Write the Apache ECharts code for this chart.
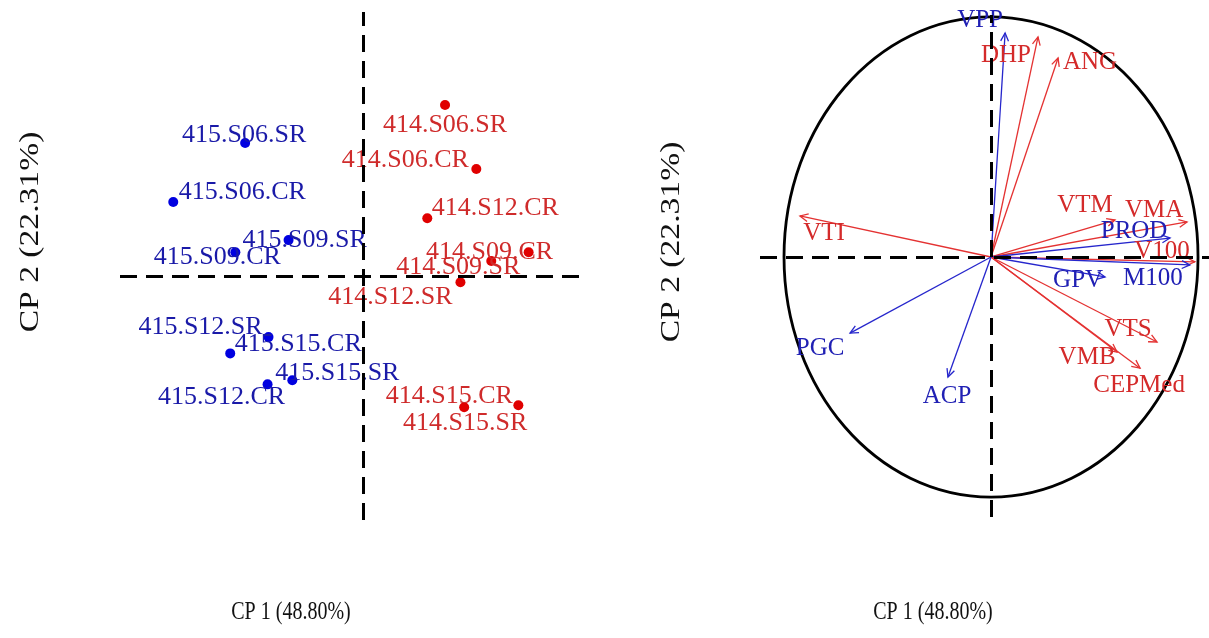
<!DOCTYPE html>
<html>
<head>
<meta charset="utf-8">
<title>CP 1 / CP 2</title>
<script src="https://cdn.jsdelivr.net/npm/echarts@6/dist/echarts.min.js"></script>
<style>
  html, body { margin: 0; padding: 0; background: #fff; }
  #chart { width: 1209px; height: 638px; }
</style>
</head>
<body>
<div id="chart"></div>
<script>
// Individuals: scores on the first two principal components
const indNames = [
  '415.S06.SR', '415.S06.CR', '415.S09.SR', '415.S09.CR',
  '415.S12.SR', '415.S15.CR', '415.S15.SR', '415.S12.CR',
  '414.S06.SR', '414.S06.CR', '414.S12.CR', '414.S09.CR',
  '414.S09.SR', '414.S12.SR', '414.S15.CR', '414.S15.SR'
];
const indCP1 = [-2.52, -4.06, -1.59, -2.73, -2.02, -2.84, -1.51, -2.04,
                 1.76,  2.43,  1.38,  3.55,  2.75,  2.09,  3.33,  2.17];
const indCP2 = [ 2.62,  1.46,  0.71,  0.47, -1.20, -1.52, -2.05, -2.13,
                 3.37,  2.11,  1.14,  0.47,  0.30, -0.12, -2.54, -2.58];
const indGroup = ['415', '415', '415', '415', '415', '415', '415', '415',
                  '414', '414', '414', '414', '414', '414', '414', '414'];

// Variables: correlations with the first two components
const varNames = ['VPP', 'DHP', 'ANG', 'VTI', 'VTM', 'VMA', 'PROD', 'V100',
                  'M100', 'GPV', 'VTS', 'VMB', 'CEPMed', 'PGC', 'ACP'];
const varCP1 = [0.068, 0.227, 0.324, -0.923, 0.599, 0.947, 0.865, 0.985,
                0.961, 0.551, 0.802, 0.609, 0.720, -0.681, -0.208];
const varCP2 = [0.933, 0.917, 0.829, 0.171, 0.154, 0.146, 0.079, -0.020,
                -0.033, -0.083, -0.354, -0.396, -0.463, -0.317, -0.500];
const varGroup = ['b', 'r', 'r', 'r', 'r', 'r', 'b', 'r',
                  'b', 'b', 'r', 'r', 'r', 'b', 'b'];

const axisTitleX = 'CP 1 (48.80%)';
const axisTitleY = 'CP 2 (22.31%)';

// Label placement (pixel shifts from the marker)
const indLabelShift = [
  [-1, -8], [69, -10], [16, 0], [-18, 5],
  [-68, -10], [68, -9], [45, -7], [-46, 13],
  [0, 20], [-71, -9], [68, -10], [-39, 0],
  [-33, 6], [-70, 15], [-69, -9], [1, 16]
];
const varLabelShift = [
  [-25, -13], [-32, 19], [32, 4], [24, 17], [-30, -15], [-33, -12],
  [-36, -7], [-33, -10], [-37, 14], [-27, 4], [-29, -13], [-30, 5],
  [-1, 17], [-30, 15], [-1, 19]
];

const FONT = '"Liberation Serif", "DejaVu Serif", serif';
const dotColor = { '415': '#0000e0', '414': '#e00000' };
const textColor = { '415': '#1a1aa8', '414': '#cf2b2b' };
const arrowColor = { b: '#2626cc', r: '#e43232' };
const varTextColor = { b: '#2020b4', r: '#d42a2a' };

const dash = { color: '#000', width: 3, type: [17, 9] };

function groupData(g) {
  const out = [];
  indNames.forEach((n, i) => {
    if (indGroup[i] !== g) return;
    out.push({
      name: n,
      value: [indCP1[i], indCP2[i]],
      label: { offset: indLabelShift[i] }
    });
  });
  return out;
}

function scatterSeries(g) {
  return {
    type: 'scatter',
    xAxisIndex: 0, yAxisIndex: 0,
    symbol: 'circle',
    symbolSize: 10,
    itemStyle: { color: dotColor[g], opacity: 1 },
    z: 3,
    label: {
      show: true,
      position: 'inside',
      formatter: p => p.name,
      color: textColor[g],
      opacity: 1,
      fontFamily: FONT,
      fontSize: 26
    },
    data: groupData(g)
  };
}

function crossLines(xi) {
  return {
    type: 'line',
    xAxisIndex: xi, yAxisIndex: xi,
    data: [],
    silent: true,
    z: 1,
    markLine: {
      silent: true,
      symbol: 'none',
      label: { show: false },
      lineStyle: dash,
      animation: false,
      data: [{ xAxis: 0 }, { yAxis: 0 }]
    }
  };
}

function renderArrow(params, api) {
  const i = params.dataIndex;
  const o = api.coord([0, 0]);
  const p = api.coord([api.value(0), api.value(1)]);
  const col = arrowColor[varGroup[i]];
  const ang = Math.atan2(p[1] - o[1], p[0] - o[0]);
  const h = 9, spread = Math.PI / 7;
  const a1 = [p[0] - h * Math.cos(ang - spread), p[1] - h * Math.sin(ang - spread)];
  const a2 = [p[0] - h * Math.cos(ang + spread), p[1] - h * Math.sin(ang + spread)];
  const s = varLabelShift[i];
  return {
    type: 'group',
    children: [
      { type: 'line', shape: { x1: o[0], y1: o[1], x2: p[0], y2: p[1] },
        style: { stroke: col, lineWidth: 1.3 } },
      { type: 'polyline', shape: { points: [a1, p, a2] },
        style: { stroke: col, lineWidth: 1.3, fill: null } },
      { type: 'text', x: p[0] + s[0], y: p[1] + s[1], z2: 10,
        style: { text: varNames[i], fill: varTextColor[varGroup[i]],
                 fontFamily: FONT, fontSize: 25,
                 align: 'center', verticalAlign: 'middle' } }
    ]
  };
}

function renderCircle(params, api) {
  const c = api.coord([0, 0]);
  const r = api.size([1, 1]);
  return {
    type: 'ellipse',
    shape: { cx: c[0], cy: c[1], rx: r[0], ry: r[1] },
    style: { stroke: '#000', fill: null, lineWidth: 2.8 }
  };
}

const hiddenAxis = { show: false, scale: false };

// axis titles: horizontal ones are narrow-set, vertical ones long-set
function xTitle(cx) {
  return { type: 'text', x: cx, y: 612, scaleX: 0.8, scaleY: 1,
    style: { text: axisTitleX, fill: '#111', fontFamily: FONT, fontSize: 25,
             align: 'center', verticalAlign: 'middle' } };
}
function yTitle(cx, cy) {
  return { type: 'text', x: cx, y: cy, rotation: Math.PI / 2, scaleX: 1.2, scaleY: 1,
    style: { text: axisTitleY, fill: '#111', fontFamily: FONT, fontSize: 28,
             align: 'center', verticalAlign: 'middle' } };
}

const chart = echarts.init(document.getElementById('chart'), null, { renderer: 'canvas' });
chart.setOption({
  backgroundColor: '#fff',
  animation: false,
  grid: [
    { left: 120, right: 622, top: 12, bottom: 118 },
    { left: 760, right: 0, top: 15, bottom: 121 }
  ],
  xAxis: [
    Object.assign({ type: 'value', gridIndex: 0, min: -5.2, max: 4.8 }, hiddenAxis),
    Object.assign({ type: 'value', gridIndex: 1, min: -1.116, max: 1.053 }, hiddenAxis)
  ],
  yAxis: [
    Object.assign({ type: 'value', gridIndex: 0, min: -4.8, max: 5.2 }, hiddenAxis),
    Object.assign({ type: 'value', gridIndex: 1, min: -1.083, max: 1.008 }, hiddenAxis)
  ],
  series: [
    crossLines(0),
    scatterSeries('415'),
    scatterSeries('414'),
    crossLines(1),
    {
      type: 'custom',
      xAxisIndex: 1, yAxisIndex: 1,
      clip: false,
      silent: true,
      z: 2,
      renderItem: renderCircle,
      data: [[0, 0]]
    },
    {
      type: 'custom',
      xAxisIndex: 1, yAxisIndex: 1,
      clip: false,
      silent: true,
      z: 3,
      renderItem: renderArrow,
      data: varNames.map((n, i) => [varCP1[i], varCP2[i]])
    }
  ],
  graphic: [
    xTitle(291),
    xTitle(933),
    yTitle(31, 232),
    yTitle(672, 242)
  ]
});
</script>
</body>
</html>
